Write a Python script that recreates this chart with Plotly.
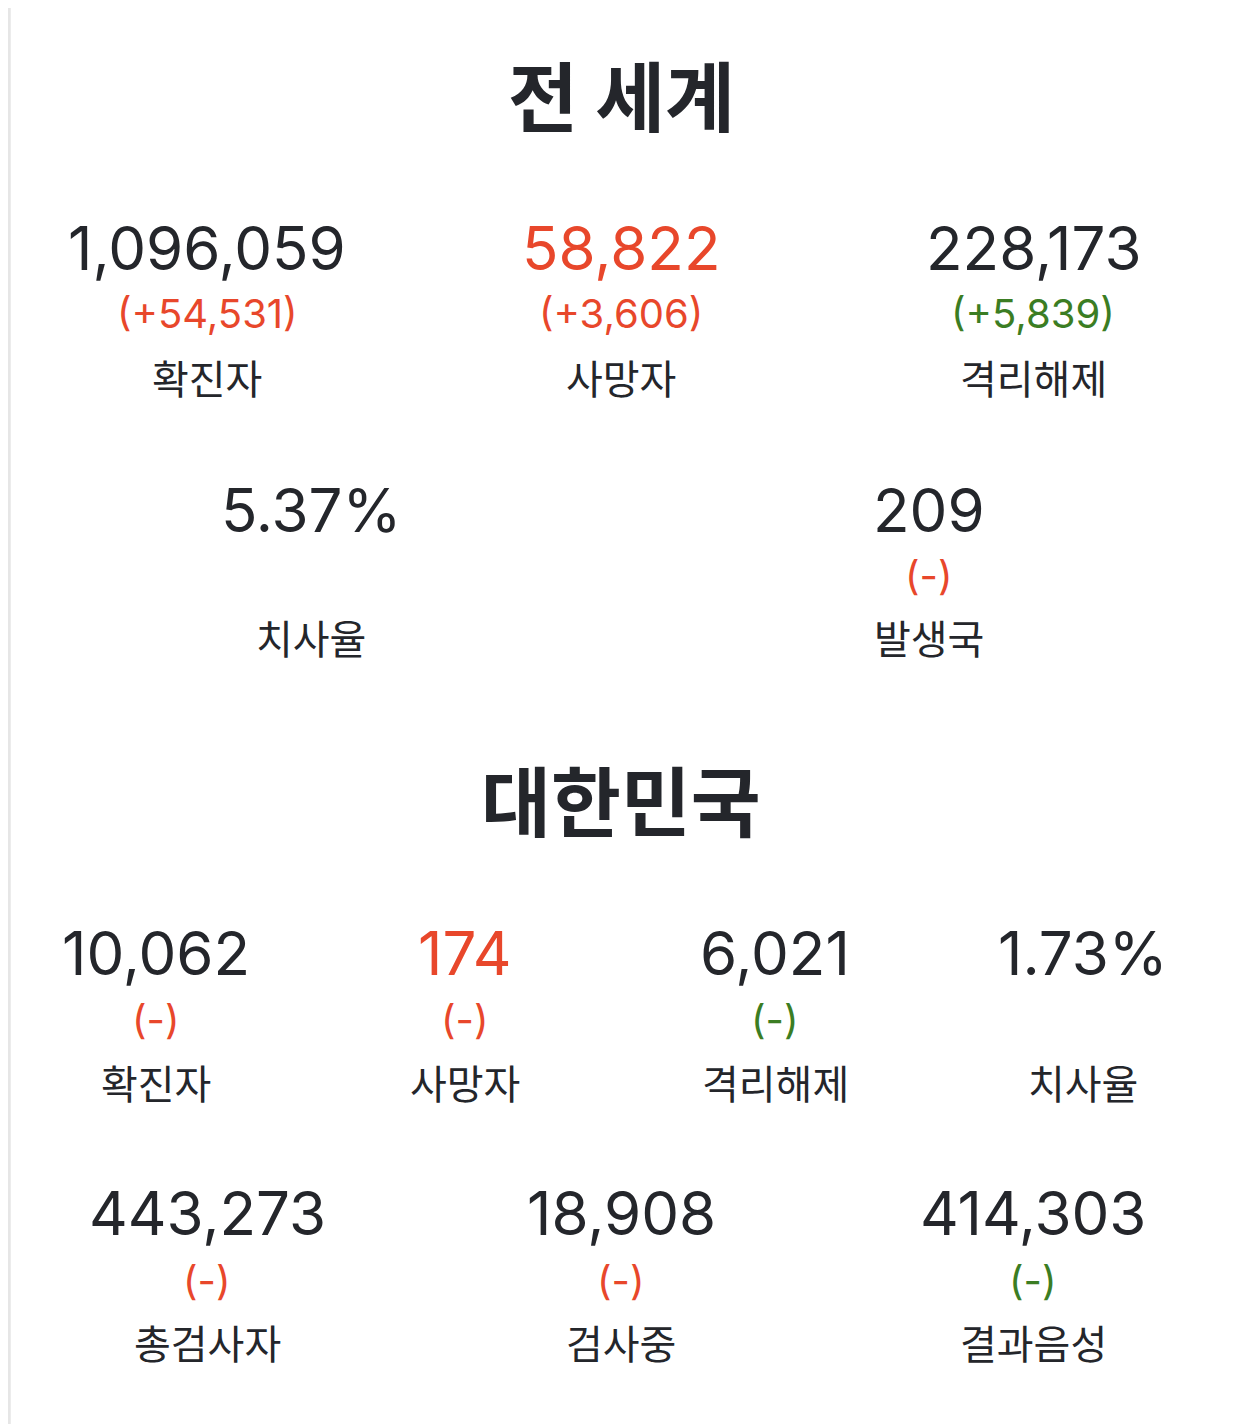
import plotly.graph_objects as go

W, H = 1242, 1424
DX, DY = -8, -13  # page offset correction
DARK = "#24262b"
RED = "#e8472b"
GREEN = "#3b7d23"
FONT = "Noto Sans CJK KR"
NUM_FONT = "Inter"

# data
world_title = "전 세계"
world_labels = ["확진자", "사망자", "격리해제"]
world_values = ["1,096,059", "58,822", "228,173"]
world_deltas = ["(+54,531)", "(+3,606)", "(+5,839)"]
world2_labels = ["치사율", "발생국"]
world2_values = ["5.37%", "209"]
world2_deltas = [None, "(-)"]

korea_title = "대한민국"
korea_labels = ["확진자", "사망자", "격리해제", "치사율"]
korea_values = ["10,062", "174", "6,021", "1.73%"]
korea_deltas = ["(-)", "(-)", "(-)", None]
korea2_labels = ["총검사자", "검사중", "결과음성"]
korea2_values = ["443,273", "18,908", "414,303"]
korea2_deltas = ["(-)", "(-)", "(-)"]

fig = go.Figure()
ann = []


def txt(x, y, s, size, color, family=FONT):
    ann.append(dict(x=(x + DX) / W, y=1 - (y + DY) / H, xref="paper", yref="paper", text=s,
                    showarrow=False, xanchor="center", yanchor="middle",
                    font=dict(family=family, size=size, color=color)))


def block(xs, ys, values, deltas, labels, value_colors, delta_colors):
    for i, x in enumerate(xs):
        txt(x, ys[0], values[i], 60, value_colors[i], NUM_FONT)
        if deltas[i]:
            txt(x, ys[1], deltas[i], 40, delta_colors[i], NUM_FONT)
        txt(x, ys[2], labels[i], 40, DARK)


txt(621, 98, "<b>" + world_title + "</b>", 76, DARK)
block([207, 621, 1033], [253, 318, 382], world_values, world_deltas, world_labels,
      [DARK, RED, DARK], [RED, RED, GREEN])
block([311, 929], [515, 580, 642], world2_values, world2_deltas, world2_labels,
      [DARK, DARK], [RED, RED])

txt(621, 803, "<b>" + korea_title + "</b>", 76, DARK)
block([156, 465, 775, 1083], [958, 1024, 1087], korea_values, korea_deltas, korea_labels,
      [DARK, RED, DARK, DARK], [RED, RED, GREEN, RED])
block([207, 621, 1033], [1218, 1285, 1347], korea2_values, korea2_deltas, korea2_labels,
      [DARK, DARK, DARK], [RED, RED, GREEN])

fig.update_layout(
    width=W, height=H, margin=dict(l=0, r=0, t=0, b=0),
    paper_bgcolor="white", plot_bgcolor="white",
    xaxis=dict(visible=False), yaxis=dict(visible=False),
    annotations=ann, showlegend=False,
    shapes=[
        dict(type="line", xref="paper", yref="paper", x0=0.001, x1=0.001, y0=0, y1=1,
             line=dict(color="#e6e6e6", width=3)),
        dict(type="line", xref="paper", yref="paper", x0=(1239 + DX) / W, x1=(1239 + DX) / W,
             y0=0, y1=1, line=dict(color="#e6e6e6", width=3)),
    ],
)
fig.write_html("out.html")
